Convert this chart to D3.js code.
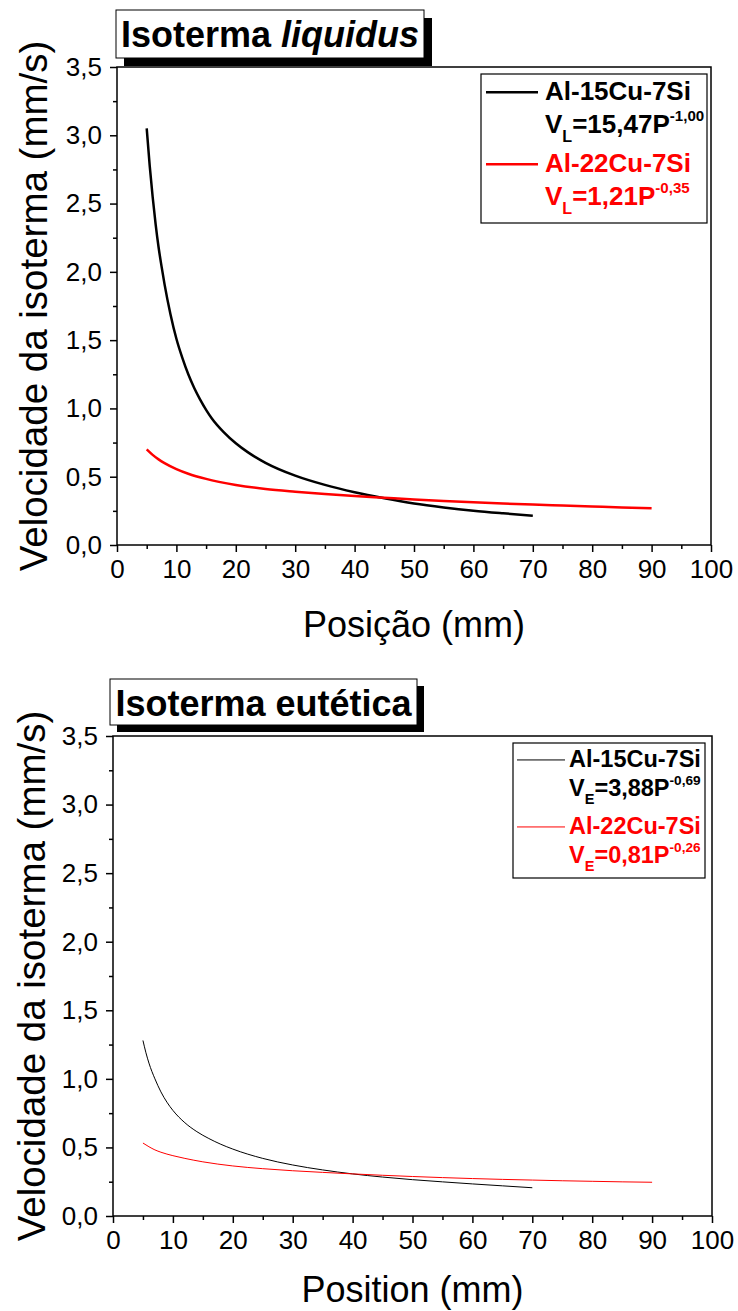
<!DOCTYPE html>
<html>
<head>
<meta charset="utf-8">
<script src="https://cdn.jsdelivr.net/npm/d3@7/dist/d3.min.js"></script>
<style>
  body { margin: 0; background: #fff; }
  svg { display: block; }
  text { font-family: "Liberation Sans", Arial, Helvetica, sans-serif; fill: #000; }
</style>
</head>
<body>
<svg id="chart" width="738" height="1311"></svg>
<script>
// Isotherm velocity versus position for two Al-Cu-Si alloys

// Axis ticks
const xMajorTicks = [0, 10, 20, 30, 40, 50, 60, 70, 80, 90, 100];
const xMinorTicks = [5, 15, 25, 35, 45, 55, 65, 75, 85, 95];
const yMajorTicks = [0, 0.5, 1.0, 1.5, 2.0, 2.5, 3.0, 3.5];
const yMinorTicks = [0.25, 0.75, 1.25, 1.75, 2.25, 2.75, 3.25];

const alloyNames = ["Al-15Cu-7Si", "Al-22Cu-7Si"];
const alloyColors = ["#000000", "#ff0000"];

// Liquidus isotherm, Al-15Cu-7Si (position mm, velocity mm/s)
const liq15Pos = [5, 5.5, 6, 6.5, 7, 7.5, 8, 9, 10, 11, 12, 13, 14, 15, 16, 18, 20, 22, 25, 30, 35, 40, 45, 50, 55, 60, 65, 70];
const liq15Vel = [3.05, 2.78, 2.55, 2.35, 2.18, 2.04, 1.91, 1.69, 1.51, 1.37, 1.25, 1.15, 1.065, 0.99, 0.925, 0.825, 0.745, 0.68, 0.602, 0.508, 0.44, 0.386, 0.342, 0.304, 0.275, 0.251, 0.232, 0.215];
// Liquidus isotherm, Al-22Cu-7Si
const liq22Pos = [5, 6, 7, 8, 10, 12, 15, 20, 25, 30, 35, 40, 45, 50, 55, 60, 65, 70, 75, 80, 85, 90];
const liq22Vel = [0.70, 0.66, 0.627, 0.60, 0.556, 0.522, 0.484, 0.44, 0.41, 0.39, 0.373, 0.358, 0.346, 0.334, 0.323, 0.313, 0.304, 0.296, 0.289, 0.282, 0.275, 0.269];

// Eutectic isotherm, Al-15Cu-7Si
const eut15Pos = [5, 5.5, 6, 7, 8, 9, 10, 12, 14, 16, 18, 20, 25, 30, 35, 40, 45, 50, 55, 60, 65, 70];
const eut15Vel = [1.28, 1.19, 1.115, 1.0, 0.905, 0.83, 0.77, 0.68, 0.615, 0.565, 0.523, 0.488, 0.42, 0.372, 0.336, 0.307, 0.284, 0.265, 0.249, 0.234, 0.22, 0.206];
// Eutectic isotherm, Al-22Cu-7Si
const eut22Pos = [5, 6, 7, 8, 10, 12, 15, 20, 25, 30, 35, 40, 45, 50, 55, 60, 65, 70, 75, 80, 85, 90];
const eut22Vel = [0.532, 0.505, 0.482, 0.465, 0.44, 0.42, 0.395, 0.365, 0.345, 0.330, 0.318, 0.307, 0.297, 0.288, 0.280, 0.273, 0.267, 0.262, 0.257, 0.253, 0.249, 0.246];

// Fitted power laws shown in the legends
const liqSub = "L";
const liqCoef = ["15,47", "1,21"];
const liqExp = ["-1,00", "-0,35"];
const eutSub = "E";
const eutCoef = ["3,88", "0,81"];
const eutExp = ["-0,69", "-0,26"];

const svg = d3.select("#chart");
const fmt = v => d3.format(".1f")(v).replace(".", ",");
const fmtX = v => String(v);

function drawPanel(o) {
  const g = svg.append("g");
  const x = d3.scaleLinear().domain([0, 100]).range([o.left, o.right]);
  const y = d3.scaleLinear().domain([0, 3.5]).range([o.bottom, o.top]);

  // minor ticks
  g.append("g").attr("transform", `translate(0,${o.bottom})`)
    .call(d3.axisBottom(x).tickValues(xMinorTicks).tickSize(4).tickSizeOuter(0).tickFormat(""))
    .call(a => a.select(".domain").remove());
  g.append("g").attr("transform", `translate(${o.left},0)`)
    .call(d3.axisLeft(y).tickValues(yMinorTicks).tickSize(4).tickSizeOuter(0).tickFormat(""))
    .call(a => a.select(".domain").remove());

  // major ticks with labels
  g.append("g").attr("transform", `translate(0,${o.bottom})`)
    .call(d3.axisBottom(x).tickValues(xMajorTicks).tickSize(7).tickSizeOuter(0).tickPadding(8).tickFormat(fmtX))
    .call(a => a.select(".domain").remove());
  g.append("g").attr("transform", `translate(${o.left},0)`)
    .call(d3.axisLeft(y).tickValues(yMajorTicks).tickSize(7).tickSizeOuter(0).tickPadding(8).tickFormat(fmt))
    .call(a => a.select(".domain").remove());
  g.selectAll(".tick line").attr("stroke", "#000").attr("stroke-width", 1.5);
  g.selectAll(".tick text").attr("font-size", 26).attr("font-family", "Liberation Sans, Arial, sans-serif").attr("fill", "#000");

  // frame
  g.append("rect")
    .attr("x", o.left).attr("y", o.top)
    .attr("width", o.right - o.left).attr("height", o.bottom - o.top)
    .attr("fill", "none").attr("stroke", "#000").attr("stroke-width", 1.5);

  // curves
  o.series.forEach((s, i) => {
    const pts = d3.zip(s.pos, s.vel);
    g.append("path").datum(pts)
      .attr("d", d3.line().x(d => x(d[0])).y(d => y(d[1])).curve(d3.curveMonotoneX))
      .attr("fill", "none").attr("stroke", alloyColors[i]).attr("stroke-width", o.lineWidth)
      .attr("stroke-linejoin", "round");
  });

  // axis titles
  g.append("text")
    .attr("transform", `translate(${o.yTitleX},${(o.top + o.bottom) / 2}) rotate(-90)`)
    .attr("text-anchor", "middle").attr("font-size", 38.5)
    .text("Velocidade da isoterma (mm/s)");
  g.append("text")
    .attr("x", (o.left + o.right) / 2).attr("y", o.xTitleY)
    .attr("text-anchor", "middle").attr("font-size", 36)
    .text(o.xTitle);

  // boxed panel title with drop shadow
  const tb = o.titleBox;
  g.append("rect").attr("x", tb.x + tb.shadow).attr("y", tb.y + tb.shadow)
    .attr("width", tb.w).attr("height", tb.h).attr("fill", "#000");
  g.append("rect").attr("x", tb.x).attr("y", tb.y)
    .attr("width", tb.w).attr("height", tb.h)
    .attr("fill", "#fff").attr("stroke", "#000").attr("stroke-width", 1);
  const tt = g.append("text").attr("x", tb.x + tb.w / 2).attr("y", tb.baseline)
    .attr("text-anchor", "middle").attr("font-size", 36).attr("font-weight", "bold");
  o.titleParts.forEach(p => tt.append("tspan").attr("font-style", p.italic ? "italic" : "normal").text(p.t));

  // legend
  const lg = o.legend;
  g.append("rect").attr("x", lg.x).attr("y", lg.y).attr("width", lg.w).attr("height", lg.h)
    .attr("fill", "#fff").attr("stroke", "#000").attr("stroke-width", 1.2);
  alloyNames.forEach((name, i) => {
    const c = alloyColors[i];
    const nb = lg.rows[i * 2], fb = lg.rows[i * 2 + 1];
    g.append("line").attr("x1", lg.lineX0).attr("x2", lg.lineX1)
      .attr("y1", nb - lg.fs * 0.3).attr("y2", nb - lg.fs * 0.3)
      .attr("stroke", c).attr("stroke-width", o.lineWidth);
    g.append("text").attr("x", lg.textX).attr("y", nb)
      .attr("font-size", lg.fs).attr("font-weight", "bold").style("fill", c).text(name);
    const ft = g.append("text").attr("x", lg.textX).attr("y", fb)
      .attr("font-size", lg.fs).attr("font-weight", "bold").style("fill", c);
    ft.append("tspan").text("V");
    ft.append("tspan").attr("font-size", lg.fs * 0.62).attr("dy", lg.fs * 0.36).text(o.fitSub);
    ft.append("tspan").attr("dy", -lg.fs * 0.36).text("=" + o.fitCoef[i] + "P");
    ft.append("tspan").attr("font-size", lg.fs * 0.58).attr("dy", -lg.fs * 0.45).text(o.fitExp[i]);
  });
}

drawPanel({
  left: 117, right: 711, top: 67, bottom: 545,
  lineWidth: 2.5,
  series: [{ pos: liq15Pos, vel: liq15Vel }, { pos: liq22Pos, vel: liq22Vel }],
  yTitleX: 47, xTitleY: 637, xTitle: "Posição (mm)",
  titleBox: { x: 116, y: 10, w: 308, h: 48, shadow: 8, baseline: 47 },
  titleParts: [{ t: "Isoterma ", italic: false }, { t: "liquidus", italic: true }],
  legend: { x: 481, y: 74, w: 226, h: 149, lineX0: 486, lineX1: 538, textX: 545, fs: 26,
            rows: [100, 133, 172, 205] },
  fitSub: liqSub, fitCoef: liqCoef, fitExp: liqExp
});

drawPanel({
  left: 113, right: 712, top: 736, bottom: 1216,
  lineWidth: 1,
  series: [{ pos: eut15Pos, vel: eut15Vel }, { pos: eut22Pos, vel: eut22Vel }],
  yTitleX: 45, xTitleY: 1302, xTitle: "Position (mm)",
  titleBox: { x: 110, y: 679, w: 307, h: 46, shadow: 7, baseline: 716 },
  titleParts: [{ t: "Isoterma eutética", italic: false }],
  legend: { x: 513, y: 743, w: 192, h: 135, lineX0: 517, lineX1: 565, textX: 569, fs: 23.5,
            rows: [767, 796, 834, 863] },
  fitSub: eutSub, fitCoef: eutCoef, fitExp: eutExp
});
</script>
</body>
</html>
